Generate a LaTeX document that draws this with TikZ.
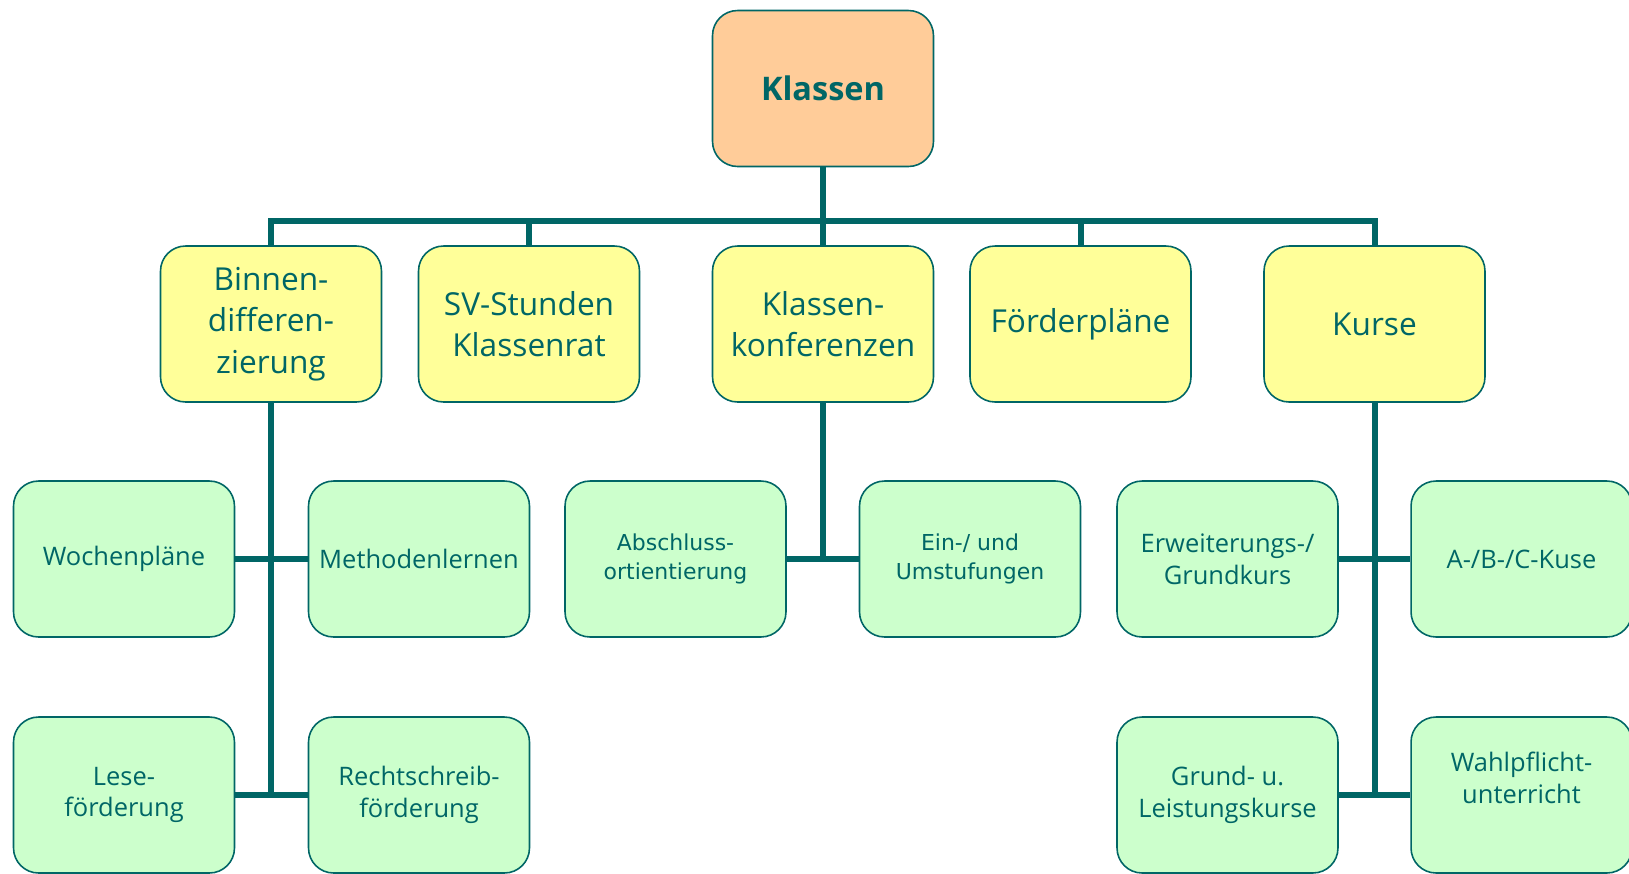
\documentclass[tikz,border=0pt]{standalone}
\usepackage{fontspec}
\newfontfamily\comicfont{Open Sans}
\newfontfamily\tahomafont{DejaVu Sans}
\definecolor{tealline}{RGB}{0,102,102}
\definecolor{orangefill}{RGB}{255,204,153}
\definecolor{yellowfill}{RGB}{255,255,153}
\definecolor{greenfill}{RGB}{204,255,204}

\begin{document}
\begin{tikzpicture}[x=0.02cm, y=-0.02cm,
    box/.style={draw=tealline, line width=0.9pt, rounded corners=0.5cm,
        minimum width=4.42cm, minimum height=3.12cm, inner sep=2pt,
        align=center, text=tealline},
    klassebox/.style={box, fill=orangefill,
        font=\comicfont\bfseries\fontsize{18.5}{22}\selectfont},
    gelbbox/.style={box, fill=yellowfill,
        font=\comicfont\fontsize{18}{23.5}\selectfont},
    gruenbox/.style={box, fill=greenfill,
        font=\comicfont\fontsize{14.5}{18}\selectfont},
    tahomabox/.style={box, fill=greenfill,
        font=\tahomafont\fontsize{12.5}{16.5}\selectfont},
    conn/.style={draw=tealline, line width=3.4pt}]
    \useasboundingbox (0,0) rectangle (1629,873);
    % Top
    \node[klassebox] (klassen) at (823,88.5) {Klassen};
    % Second level
    \node[gelbbox] (binnen) at (271,324) {Binnen-\\differen-\\zierung};
    \node[gelbbox] (sv) at (529,324) {SV-Stunden\\Klassenrat};
    \node[gelbbox] (konf) at (823,324) {Klassen-\\konferenzen};
    \node[gelbbox] (foerder) at (1080.5,324) {Förderpläne};
    \node[gelbbox] (kurse) at (1374.5,324) {Kurse};
    % Third level
    \node[gruenbox] (woche) at (124,559) {Wochenpläne};
    \node[gruenbox] (methoden) at (419,559) {Methodenlernen};
    \node[gruenbox] (lese) at (124,795) {Lese-\\förderung};
    \node[gruenbox] (recht) at (419,795) {Rechtschreib-\\förderung};
    \node[tahomabox] (abschluss) at (675.5,559) {Abschluss-\\ortientierung};
    \node[tahomabox] (ein) at (970,559) {Ein-/ und\\Umstufungen};
    \node[gruenbox] (erweit) at (1227.5,559) {Erweiterungs-/\\Grundkurs};
    \node[gruenbox] (abc) at (1521.5,559) {A-/B-/C-Kuse};
    \node[gruenbox] (grund) at (1227.5,795) {Grund- u.\\Leistungskurse};
    \node[gruenbox] (wahl) at (1521.5,795) {Wahlpflicht-\\unterricht\\[-4pt]\strut};
    % Connectors
    \coordinate (bus) at (823,221);
    \draw[conn] (klassen.south) -- (bus);
    \draw[conn] (binnen.north) |- (bus) -| (kurse.north);
    \foreach \n in {sv, konf, foerder}
        \draw[conn] (\n.north) -- (\n.north |- bus);
    \draw[conn] (binnen.south) -- (binnen.south |- lese.east);
    \draw[conn] (woche.east) -- (methoden.west);
    \draw[conn] (lese.east) -- (recht.west);
    \draw[conn] (konf.south) -- (konf.south |- abschluss.east);
    \draw[conn] (abschluss.east) -- (ein.west);
    \draw[conn] (kurse.south) -- (kurse.south |- grund.east);
    \draw[conn] (erweit.east) -- (abc.west);
    \draw[conn] (grund.east) -- (wahl.west);
\end{tikzpicture}
\end{document}
